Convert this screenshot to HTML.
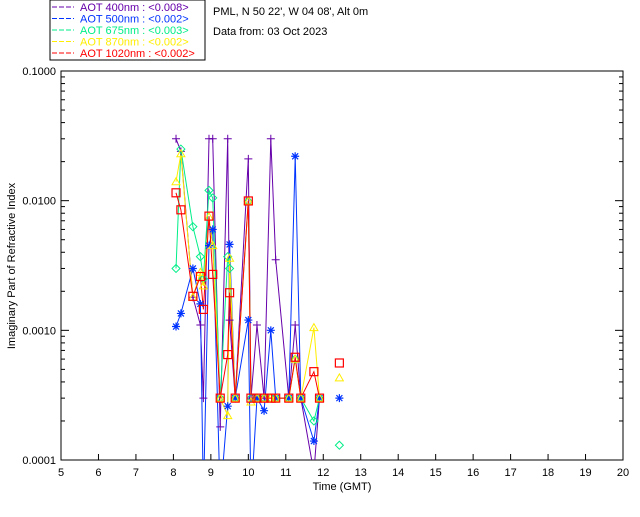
<!DOCTYPE html>
<html><head><meta charset="utf-8"><style>
body{margin:0;background:#fff;width:640px;height:512px;overflow:hidden}
svg{font-family:"Liberation Sans",sans-serif;font-size:11px}
</style></head><body>
<svg width="640" height="512" id="c">
<rect x="50" y="0" width="155" height="60" fill="#fff" stroke="#000"/>
<text x="213" y="15">PML, N 50 22', W 04 08', Alt 0m</text>
<text x="213" y="35">Data from: 03 Oct 2023</text>
<rect x="61" y="71" width="562" height="389" fill="none" stroke="#000"/>
<text x="342" y="490" text-anchor="middle">Time (GMT)</text>
<text transform="translate(15,266) rotate(-90)" text-anchor="middle">Imaginary Part of Refractive Index</text>
<defs><clipPath id="cp"><rect x="61" y="71" width="562" height="389"/></clipPath></defs>
<g id="plot" clip-path="url(#cp)"></g>
<g id="axes"></g>
<g id="legend"></g>
</svg>
<script>
const times=[8.07,8.2,8.52,8.72,8.8,8.95,9.05,9.25,9.45,9.5,9.65,10.0,10.07,10.23,10.42,10.6,10.73,11.08,11.25,11.4,11.75,11.9,12.2,12.43];
const s400=[0.03,0.024,0.0018,0.0011,0.0003,0.03,0.03,0.00018,0.03,0.0012,0.0003,0.021,0.0003,0.0011,0.0003,0.03,0.0035,0.0003,0.0011,0.0003,0.00008,0.0003,null,null];
const s500=[0.00107,0.00135,0.003,0.0016,0.00005,0.0045,0.006,0.00005,0.00026,0.0046,0.0003,0.0012,0.00005,0.0003,0.00024,0.001,0.0003,0.0003,0.022,0.0003,0.00014,0.0003,null,0.0003];
const s675=[0.003,0.025,0.0063,0.0037,0.0025,0.012,0.0105,0.0003,0.0037,0.003,0.0003,0.0099,0.0003,0.0003,0.0003,0.0003,0.0003,0.0003,0.0006,0.0003,0.0002,0.0003,null,0.00013];
const s870=[0.014,0.023,0.0018,0.0028,0.0022,0.0075,0.0045,0.0003,0.00022,0.0036,0.0003,0.0099,0.00028,0.0003,0.0003,0.0003,0.0003,0.0003,0.0006,0.0003,0.00105,0.0003,null,0.00043];
const s1020=[0.0115,0.0085,0.00183,0.0026,0.00145,0.0076,0.0027,0.0003,0.00065,0.00195,0.0003,0.00995,0.0003,0.0003,0.0003,0.0003,0.0003,0.0003,0.00062,0.0003,0.00048,0.0003,null,0.00056];
const xTicks=[5,6,7,8,9,10,11,12,13,14,15,16,17,18,19,20];
const yTicks=[0.0001,0.001,0.01,0.1];
const yTickLabels=["0.0001","0.0010","0.0100","0.1000"];
const legendLabels=["AOT  400nm : <0.008>","AOT  500nm : <0.002>","AOT  675nm : <0.003>","AOT  870nm : <0.002>","AOT 1020nm : <0.002>"];
const colors=["#6600aa","#0033ff","#00ee88","#ffee00","#ff0000"];
const series=[s400,s500,s675,s870,s1020];
const markers=["plus","star","diamond","tri","square"];
const NS="http://www.w3.org/2000/svg";
const X=t=>61+(t-5)*562/15;
const Y=v=>460-(Math.log10(v)+4)*389/3;
function mk(tag,at,parent){const e=document.createElementNS(NS,tag);for(const k in at)e.setAttribute(k,at[k]);parent.appendChild(e);return e;}
const plot=document.getElementById('plot'),axes=document.getElementById('axes'),leg=document.getElementById('legend');
xTicks.forEach(t=>{
  const l=mk('line',{x1:X(t),x2:X(t),y1:460,y2:454,stroke:'#000'},axes);
  
  
  const tx=mk('text',{x:X(t),y:476,'text-anchor':'middle'},axes);tx.textContent=t;
  
  
});
yTicks.forEach((v,i)=>{
  const tx=mk('text',{x:56,y:Y(v)+4,'text-anchor':'end'},axes);tx.textContent=yTickLabels[i];
  
  
  if(i<3)for(let m=1;m<10;m++){const yy=Y(v*m);const w=m==1?8:4;
    mk('line',{x1:61,x2:61+w,y1:yy,y2:yy,stroke:'#000'},axes);mk('line',{x1:623,x2:623-w,y1:yy,y2:yy,stroke:'#000'},axes);}
});
series.forEach((s,k)=>{
  const c=colors[k];let d='',pen=false;
  s.forEach((v,i)=>{if(v==null){pen=false;return;}d+=(pen?'L':'M')+X(times[i]).toFixed(1)+' '+Y(v).toFixed(1);pen=true;});
  const p=mk('path',{d:d,fill:'none',stroke:c,'stroke-width':1},plot);
  
  
});
series.forEach((s,k)=>{
  const c=colors[k];
  s.forEach((v,i)=>{
    if(v==null||v<0.0001)return;const x=X(times[i]),y=Y(v);let m;
    if(markers[k]=='plus')m=mk('path',{d:`M${x-4} ${y}H${x+4}M${x} ${y-4}V${y+4}`,stroke:c,fill:'none'},plot);
    else if(markers[k]=='star')m=mk('path',{d:`M${x-4} ${y}H${x+4}M${x} ${y-4}V${y+4}M${x-3} ${y-3}L${x+3} ${y+3}M${x-3} ${y+3}L${x+3} ${y-3}`,stroke:c,fill:'none','stroke-width':1.2},plot);
    else if(markers[k]=='diamond')m=mk('path',{d:`M${x} ${y-4}L${x+4} ${y}L${x} ${y+4}L${x-4} ${y}Z`,stroke:c,fill:'none'},plot);
    else if(markers[k]=='tri')m=mk('path',{d:`M${x} ${y-4}L${x+4} ${y+3}L${x-4} ${y+3}Z`,stroke:c,fill:'none'},plot);
    else m=mk('rect',{x:x-4,y:y-4,width:8,height:8,stroke:c,fill:'none','stroke-width':1.2},plot);
    
    
  });
});
legendLabels.forEach((t,i)=>{
  const y=10+i*11.5;
  mk('line',{x1:52,x2:74,y1:y-3,y2:y-3,stroke:colors[i],'stroke-dasharray':'5,2'},leg);
  const tx=mk('text',{x:80,y:y+1,fill:colors[i],'font-size':'11px','xml:space':'preserve'},leg);tx.textContent=t;
  
  
});
</script>
</body></html>
